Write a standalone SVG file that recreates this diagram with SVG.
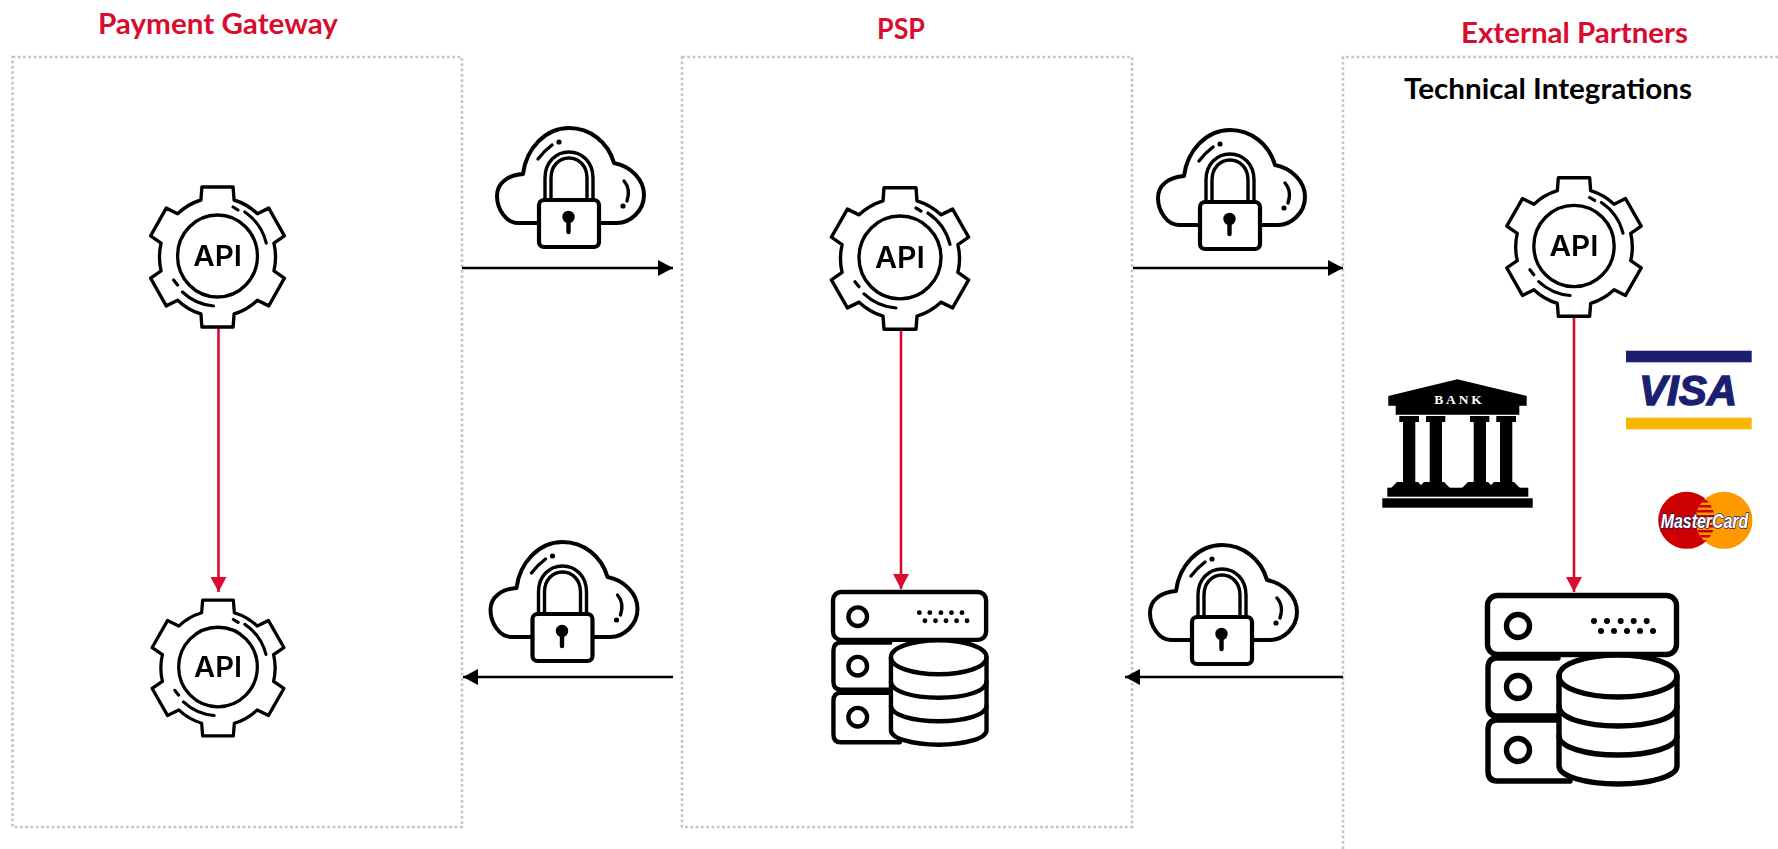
<svg xmlns="http://www.w3.org/2000/svg" width="1778" height="849" viewBox="0 0 1778 849">
<style>
.frame{fill:none;stroke:#c4c4c4;stroke-width:2.6;stroke-dasharray:2.7 2.6}
.title{font-family:Lato,"Open Sans","Liberation Sans",sans-serif;font-weight:700;font-size:28px;fill:#d90b2e}
.sub{font-family:Lato,"Open Sans","Liberation Sans",sans-serif;font-weight:700;font-size:28px;fill:#000}
.ln{fill:none;stroke:#000;stroke-linecap:round;stroke-linejoin:round}
.fl{fill:#fff;stroke:#000;stroke-linejoin:round}
.api{font-family:Inter,Roboto,"Liberation Sans",sans-serif;font-weight:600;font-size:29px;fill:#000;text-anchor:middle}
.blk{stroke:#000;stroke-width:2.4;fill:none}
.red{stroke:#d90b2e;stroke-width:2.6;fill:none}
.soft{filter:url(#soft)}
</style>
<defs>
<filter id="soft" x="-5%" y="-5%" width="110%" height="110%"><feGaussianBlur stdDeviation="0.5"/></filter>
<marker id="ah" markerUnits="userSpaceOnUse" markerWidth="16" markerHeight="16" refX="15" refY="8" orient="auto"><path d="M0,0L15,8L0,16Z" fill="#000"/></marker>
<marker id="ar" markerUnits="userSpaceOnUse" markerWidth="16" markerHeight="16" refX="15" refY="8" orient="auto"><path d="M0,0L15,8L0,16Z" fill="#d90b2e"/></marker>
<g id="gear">
<path class="ln" stroke-width="3.4" d="M-17,-57L-16,-70H16L17,-57A60,60 0 0 1 40.9,-43.2L52.6,-48.9L68.6,-21.1L57.9,-13.8A60,60 0 0 1 57.9,13.8L68.6,21.1L52.6,48.9L40.9,43.2A60,60 0 0 1 17,57L16,70H-16L-17,57A60,60 0 0 1 -40.9,43.2L-52.6,48.9L-68.6,21.1L-57.9,13.8A60,60 0 0 1 -57.9,-13.8L-68.6,-21.1L-52.6,-48.9L-40.9,-43.2A60,60 0 0 1 -17,-57Z"/>
<circle class="ln" stroke-width="3.4" cx="0" cy="-1" r="41"/>
<path class="ln" stroke-width="3.2" d="M28,-45A53,53 0 0 1 50,-14M16,-50L21,-47M-36,35A53,53 0 0 0 -4,49M-45,23L-41,28"/>
</g>
<g id="cloudlock">
<path class="ln" stroke-width="4" d="M58,112H38C26,112 17,98 17,85C17,72 28,64 43,63C46,38 65,17 89,17C110,17 128,31 134,52C150,55 164,68 164,84C164,100 150,112 137,112H120"/>
<path class="ln" stroke-width="3.4" d="M65,88V67C65,51 76,41 89,41C102,41 113,51 113,67V88M71,88V67C71,55 79,47 89,47C99,47 107,55 107,67V88"/>
<rect class="fl" stroke-width="4.2" x="59" y="89" width="60" height="47" rx="5"/>
<circle cx="88.5" cy="106" r="6.2"/>
<path class="ln" stroke-width="4.4" d="M88.5,108V121"/>
<path class="ln" stroke-width="3.4" d="M58,48Q64,40 72,34M144,70Q151,78 147,90"/>
<circle cx="79" cy="31" r="2.6"/>
<circle cx="143" cy="95" r="2.6"/>
</g>
<g id="dbserver">
<rect class="ln" stroke-width="5.4" x="2.5" y="2.5" width="189" height="59" rx="10"/>
<path class="ln" stroke-width="5.4" d="M73,65H12Q3,65 3,75V113Q3,123 12,123H73M73,127H12Q3,127 3,137V178Q3,188 12,188H85"/>
<g class="ln" stroke-width="5.4"><circle cx="33" cy="33" r="11.5"/><circle cx="33" cy="94" r="11.5"/><circle cx="33" cy="157" r="11.5"/></g>
<g><circle cx="109" cy="28" r="3"/><circle cx="122" cy="28" r="3"/><circle cx="135.7" cy="28" r="3"/><circle cx="148.7" cy="28" r="3"/><circle cx="161.7" cy="28" r="3"/><circle cx="116" cy="38" r="3"/><circle cx="129" cy="38" r="3"/><circle cx="142" cy="38" r="3"/><circle cx="155" cy="38" r="3"/><circle cx="168" cy="38" r="3"/></g>
<path class="fl" stroke-width="5.4" d="M74,83C74,71 100,62 133,62C166,62 192,71 192,83V173C192,183 166,191 133,191C100,191 74,183 74,173Z"/>
<path class="ln" stroke-width="5.4" d="M74,83C74,95 100,104 133,104C166,104 192,95 192,83M74,113C74,125 100,133 133,133C166,133 192,125 192,113M74,143C74,154 100,162 133,162C166,162 192,154 192,143"/>
</g>
<pattern id="stripes" patternUnits="userSpaceOnUse" width="5" height="5"><rect width="5" height="5" fill="#ff9900"/><rect width="5" height="2.5" fill="#cc0000"/></pattern>
</defs>
<rect width="1778" height="849" fill="#fff"/>

<g id="payment-gateway">
<rect class="frame" x="12.5" y="57" width="449.5" height="770"/>
<text class="title" x="98" y="33.5" textLength="240" lengthAdjust="spacingAndGlyphs">Payment Gateway</text>
</g>
<g id="psp">
<rect class="frame" x="682" y="57" width="450" height="770"/>
<text class="title" x="877" y="39" textLength="48" lengthAdjust="spacingAndGlyphs">PSP</text>
</g>
<g id="external-partners">
<path class="frame" d="M1778,57H1343V849"/>
<text class="title" x="1461" y="43" textLength="227" lengthAdjust="spacingAndGlyphs">External Partners</text>
<text class="sub" x="1404" y="99" textLength="288" lengthAdjust="spacingAndGlyphs">Technical Integrations</text>
</g>

<g id="connectors">
<path class="blk" marker-end="url(#ah)" d="M462,268H673"/>
<path class="blk" marker-end="url(#ah)" d="M1133,268H1343"/>
<path class="blk" marker-end="url(#ah)" d="M673,677H463"/>
<path class="blk" marker-end="url(#ah)" d="M1343,677H1125"/>
<path class="red" marker-end="url(#ar)" d="M218.5,328V592"/>
<path class="red" marker-end="url(#ar)" d="M901,329V589"/>
<path class="red" marker-end="url(#ar)" d="M1574,317V592"/>
</g>

<g id="api-gateway-1" class="soft"><g transform="translate(217.5,257) scale(.975,1)"><use href="#gear"/><text class="api" x="0" y="9" textLength="50" lengthAdjust="spacingAndGlyphs">API</text></g></g>
<g id="api-gateway-2" class="soft"><g transform="translate(218,668) scale(.96,.97)"><use href="#gear"/><text class="api" x="0" y="9" textLength="50" lengthAdjust="spacingAndGlyphs">API</text></g></g>
<g id="api-psp" class="soft"><g transform="translate(900,258.5) scale(1,1.01)"><use href="#gear"/><text class="api" x="0" y="9" textLength="50" lengthAdjust="spacingAndGlyphs">API</text></g></g>
<g id="api-external" class="soft"><g transform="translate(1574,247) scale(.98,.99)"><use href="#gear"/><text class="api" x="0" y="9" textLength="50" lengthAdjust="spacingAndGlyphs">API</text></g></g>

<g id="secure-cloud-1" class="soft"><use href="#cloudlock" transform="translate(480,111)"/></g>
<g id="secure-cloud-2" class="soft"><use href="#cloudlock" transform="translate(1141,113)"/></g>
<g id="secure-cloud-3" class="soft"><use href="#cloudlock" transform="translate(473.5,525)"/></g>
<g id="secure-cloud-4" class="soft"><use href="#cloudlock" transform="translate(1133,528)"/></g>

<g id="db-psp" class="soft"><use href="#dbserver" transform="translate(831,590) scale(.81)"/></g>
<g id="db-external" class="soft"><use href="#dbserver" transform="translate(1485,593)"/></g>

<g id="bank" transform="translate(1340,340)">
<path d="M117.3,39.3L186.7,56V65.7H179.3V74.7H55.7V65.7H48.3V56Z"/>
<text x="94.3" y="64.3" textLength="47.4" font-family="Liberation Serif,serif" font-weight="700" font-size="13.5" fill="#fff">BANK</text>
<path d="M59.3,76H79V82H75.3V142H78L84,148H51L57,142H63V82H59.3Z"/>
<path d="M86,76H105.3V82H102V142H104L110,148H78L84,142H89.7V82H86Z"/>
<path d="M130,76H149.3V82H146V142H148L154,148H122L128,142H133.7V82H130Z"/>
<path d="M156.3,76H176V82H172.3V142H174L180,148H148L154,142H160V82H156.3Z"/>
<rect x="47.3" y="147.7" width="141" height="9"/>
<rect x="42.3" y="158.3" width="150.4" height="9.4"/>
</g>

<g id="visa" transform="translate(1340,340)">
<rect x="286" y="10.7" width="125.7" height="11.6" fill="#1a1f71"/>
<rect x="286" y="77.7" width="125.7" height="11.6" fill="#f7b600"/>
<text x="299" y="65" textLength="98" lengthAdjust="spacingAndGlyphs" font-family="Liberation Sans,Arial,sans-serif" font-weight="700" font-style="italic" font-size="43" fill="#1a1f71" stroke="#1a1f71" stroke-width="1.4">VISA</text>
</g>

<g id="mastercard" transform="translate(1340,340)">
<circle cx="346.7" cy="180.3" r="28.5" fill="#cc0000"/>
<circle cx="384" cy="180.3" r="28.5" fill="#ff9900"/>
<path d="M365.35,158.8A28.5,28.5 0 0 1 365.35,201.8A28.5,28.5 0 0 1 365.35,158.8Z" fill="url(#stripes)"/>
<text x="320.7" y="188.3" textLength="87.6" lengthAdjust="spacingAndGlyphs" font-family="Liberation Sans,Arial,sans-serif" font-weight="700" font-style="italic" font-size="20" fill="#fff" stroke="#1a1f5e" stroke-width="1.4" paint-order="stroke">MasterCard</text>
</g>
</svg>
